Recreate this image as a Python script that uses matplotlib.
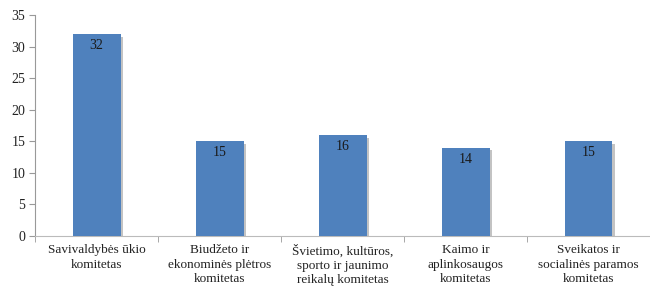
import matplotlib
matplotlib.use("Agg")
import matplotlib.pyplot as plt
import matplotlib.patheffects as pe

categories = ["Savivaldybės ūkio\nkomitetas",
              "Biudžeto ir\nekonominės plėtros\nkomitetas",
              "Švietimo, kultūros,\nsporto ir jaunimo\nreikalų komitetas",
              "Kaimo ir\naplinkosaugos\nkomitetas",
              "Sveikatos ir\nsocialinės paramos\nkomitetas"]
values = [32, 15, 16, 14, 15]
yticks = [0, 5, 10, 15, 20, 25, 30, 35]

plt.rcParams['font.family'] = ['Liberation Serif', 'DejaVu Serif']

fig = plt.figure(figsize=(6.5, 2.95), dpi=100)
ax = fig.add_axes([0.054, 0.2, 0.946, 0.749])
x = list(range(len(values)))
bars = ax.bar(x, values, width=0.39, color='#4F81BD', edgecolor='none', zorder=3)
for b in bars:
    b.set_path_effects([pe.SimplePatchShadow(offset=(2, -2), shadow_rgbFace='#888888', alpha=0.5), pe.Normal()])
for xi, v in zip(x, values):
    ax.text(xi, v - 0.8, str(v), ha='center', va='top', fontsize=10, color='#1a1a1a', zorder=4)

ax.set_xlim(-0.5, len(values) - 0.5)
ax.set_ylim(0, 35)
ax.set_yticks(yticks)
ax.set_yticklabels([str(t) for t in yticks], fontsize=10, color='#222222')
ax.set_xticks(x)
ax.set_xticklabels(categories, fontsize=9.5, color='#222222', linespacing=1.25)
ax.tick_params(axis='x', length=0, pad=6)
ax.set_xticks([i + 0.5 for i in range(-1, len(values))], minor=True)
ax.tick_params(axis='x', which='minor', length=4, color='#999999')
ax.tick_params(axis='y', length=4, color='#999999', pad=3)
for s in ['top', 'right']:
    ax.spines[s].set_visible(False)
ax.spines['left'].set_color('#999999')
ax.spines['bottom'].set_color('#bbbbbb')
fig.savefig('out.png', dpi=100)
